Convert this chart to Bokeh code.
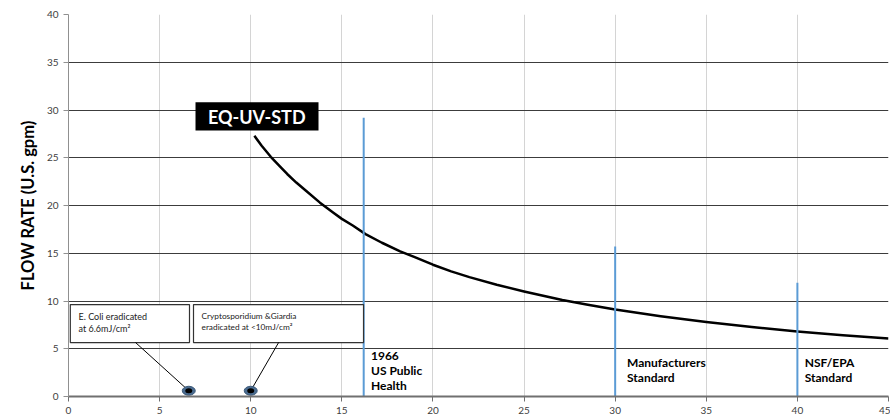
from bokeh.plotting import figure
from bokeh.models import Range1d, FixedTicker
from bokeh.embed import file_html
from bokeh.resources import INLINE
from bokeh.core.properties import value

# Curve
curve_x = [10.2, 10.6, 11.1, 11.6, 12.0, 12.5, 13.0, 13.8, 14.5, 15.0, 15.6, 16.3, 17.2, 18.2, 19.0, 20.0, 21.0, 22.0, 23.5, 25.0, 27.1, 28.5, 30.0, 32.5, 35.0, 37.5, 40.0, 42.5, 45.0]
curve_y = [27.3, 26.25, 25.1, 24.1, 23.3, 22.4, 21.6, 20.3, 19.3, 18.6, 17.9, 17.0, 16.1, 15.2, 14.6, 13.8, 13.1, 12.5, 11.7, 11.0, 10.1, 9.6, 9.1, 8.4, 7.8, 7.27, 6.8, 6.42, 6.07]

# Standards (vertical lines)
std_x = [16.2, 30, 40]
std_top = [29.2, 15.7, 11.9]
std_labels = ["1966\nUS Public\nHealth", "Manufacturers\nStandard", "NSF/EPA\nStandard"]

# Eradication points
pt_x = [6.6, 10.0]
pt_y = [0.6, 0.6]
pt_labels = ["E. Coli eradicated\nat 6.6mJ/cm\u00b2", "Cryptosporidium &Giardia\neradicated at  <10mJ/cm\u00b2"]

series_name = "EQ-UV-STD"
y_ticks = [0, 5, 10, 15, 20, 25, 30, 35, 40]
x_ticks = [0, 5, 10, 15, 20, 25, 30, 35, 40, 45]

FONT = "Lato"

p = figure(width=890, height=420, frame_width=820, frame_height=382,
           output_backend="svg", toolbar_location=None,
           x_range=Range1d(0, 45), y_range=Range1d(0, 40),
           min_border_left=68, min_border_right=2, min_border_top=14, min_border_bottom=24)
p.outline_line_color = None
p.background_fill_color = "white"

p.xaxis.ticker = FixedTicker(ticks=x_ticks)
p.yaxis.ticker = FixedTicker(ticks=y_ticks)
p.xgrid.ticker = FixedTicker(ticks=x_ticks)
p.ygrid.ticker = FixedTicker(ticks=y_ticks)
p.xgrid.grid_line_color = "#d4d4d4"
p.ygrid.grid_line_color = "#3c3c3c"
p.xgrid.grid_line_width = 1
p.ygrid.grid_line_width = 1

for ax in (p.xaxis, p.yaxis):
    ax.major_label_text_font = FONT
    ax.major_label_text_font_size = "10px"
    ax.major_label_text_color = "#404040"
    ax.minor_tick_line_color = None
    ax.major_tick_in = 0
    ax.major_tick_out = 5

p.xaxis.axis_line_color = "#707070"
p.xaxis.axis_line_width = 2
p.xaxis.major_tick_line_color = "#707070"
p.yaxis.axis_line_color = "#909090"
p.yaxis.major_tick_line_color = "#909090"
p.yaxis.axis_label = "FLOW RATE (U.S. gpm)"
p.yaxis.axis_label_text_font = FONT
p.yaxis.axis_label_text_font_style = "bold"
p.yaxis.axis_label_text_font_size = "16.5px"
p.yaxis.axis_label_text_color = "black"
p.yaxis.axis_label_standoff = 6

# curve
p.line(curve_x, curve_y, line_color="black", line_width=2.5, line_join="round")

# standards lines
p.segment(x0=std_x, y0=[0] * 3, x1=std_x, y1=std_top, line_color="#5b9bd5", line_width=2)
lab_x = [std_x[0] + 0.4, std_x[1] + 0.65, std_x[2] + 0.4]
lab_y = [5.05, 4.35, 4.35]
p.text(x=lab_x, y=lab_y, text=std_labels, text_font=value(FONT), text_font_style="bold",
       text_font_size="12px", text_baseline="top", text_align="left", text_color="black",
       text_line_height=1.0)

# annotation boxes
p.quad(left=[0.1, 6.86], right=[6.64, 16.19], top=[9.63, 9.63], bottom=[5.65, 5.65],
       fill_color="white", line_color="#333333", line_width=1.2)
p.text(x=[0.55, 7.3], y=[9.0, 9.0], text=pt_labels, text_font=value(FONT),
       text_font_size=["9px", "8.3px"], text_baseline="top", text_color="#222222",
       text_line_height=1.15)

# leader lines
p.segment(x0=[3.68, 11.53], y0=[5.65, 5.65], x1=pt_x, y1=pt_y, line_color="black", line_width=1)

# points
p.ellipse(x=pt_x, y=pt_y, width=13, height=9, width_units="screen", height_units="screen",
          fill_color="#4a6b8f", line_color="#3d5a7a", line_width=1)
p.ellipse(x=pt_x, y=pt_y, width=7, height=5, width_units="screen", height_units="screen",
          fill_color="black", line_color=None)

# series label
p.quad(left=[6.97], right=[13.72], top=[30.8], bottom=[27.85], fill_color="black", line_color=None)
p.text(x=[10.33], y=[29.3], text=[series_name], text_font=value(FONT), text_font_style="bold",
       text_font_size="18px", text_align="center", text_baseline="middle", text_color="white")

open("out.html", "w").write(file_html(p, INLINE))
